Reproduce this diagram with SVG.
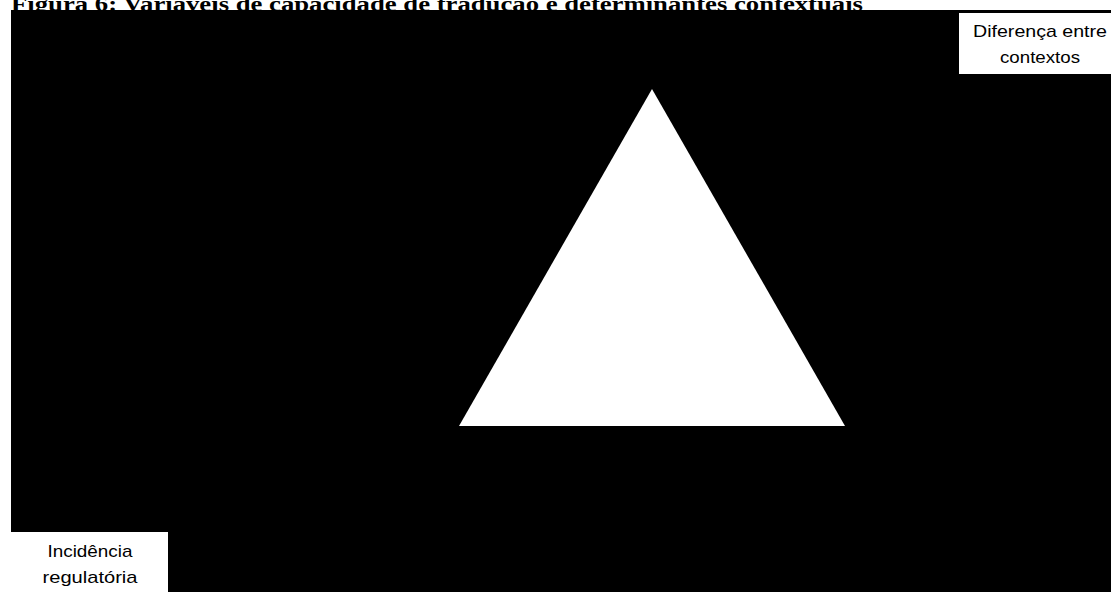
<svg xmlns="http://www.w3.org/2000/svg" width="1111" height="592" viewBox="0 0 1111 592">
<style>
.title{font-family:"Liberation Serif","Times New Roman",serif;font-weight:bold;font-size:21px;fill:#000}
.lbl{font-family:"Liberation Sans",Arial,sans-serif;font-size:17px;fill:#000;text-anchor:middle}
</style>
<rect x="0" y="0" width="1111" height="592" fill="#fff"/>
<text class="title" x="11" y="11" textLength="852" lengthAdjust="spacingAndGlyphs">Figura 6: Variáveis de capacidade de tradução e determinantes contextuais</text>
<rect x="11" y="10" width="1100" height="582" fill="#000"/>
<g id="triangle">
<polygon points="652,89 459,426 845,426" fill="#fff"/>
</g>
<g id="diferenca">
<rect x="959" y="13" width="152" height="61" fill="#fff"/>
<text class="lbl" x="1040" y="37" textLength="134" lengthAdjust="spacingAndGlyphs">Diferença entre</text>
<text class="lbl" x="1040" y="63" textLength="80" lengthAdjust="spacingAndGlyphs">contextos</text>
</g>
<g id="incidencia">
<rect x="11" y="532" width="157" height="60" fill="#fff"/>
<text class="lbl" x="90" y="557" textLength="85" lengthAdjust="spacingAndGlyphs">Incidência</text>
<text class="lbl" x="90" y="583" textLength="95" lengthAdjust="spacingAndGlyphs">regulatória</text>
</g>
<g id="connectors"></g>
</svg>
